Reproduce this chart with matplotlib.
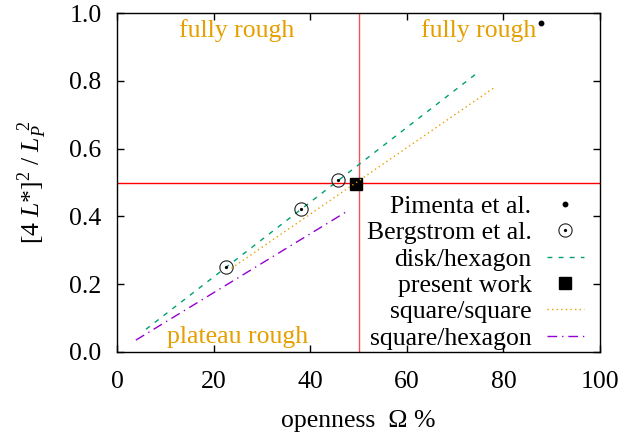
import matplotlib
matplotlib.use("Agg")
import matplotlib.pyplot as plt

# ---- data ----
pimenta_x = [87.8]
pimenta_y = [0.97]
bergstrom_x = [22.6, 38.1, 45.75]
bergstrom_y = [0.25, 0.423, 0.507]
disk_hex_x = [6.0, 74.3]
disk_hex_y = [0.067, 0.82]
present_x = [49.4]
present_y = [0.496]
sq_sq_x = [23.7, 77.9]
sq_sq_y = [0.247, 0.778]
sq_hex_x = [3.9, 48.1]
sq_hex_y = [0.035, 0.419]
x_ticks = [0, 20, 40, 60, 80, 100]
y_ticks = [0.0, 0.2, 0.4, 0.6, 0.8, 1.0]
x_crit = 50
y_crit = 0.5

plt.rcParams['font.family'] = ['Liberation Serif', 'DejaVu Serif']
plt.rcParams['mathtext.fontset'] = 'custom'
plt.rcParams['mathtext.rm'] = 'Liberation Serif'
plt.rcParams['mathtext.it'] = 'Liberation Serif:italic'
plt.rcParams['lines.scale_dashes'] = False
FS = 18.5

fig = plt.figure(figsize=(6.26, 4.32), dpi=100)
ax = fig.add_axes([117/626, 80/432, 483/626, 339/432])

orange = '#E69F00'
green = '#009E73'
purple = '#9400D3'

ax.axvline(x_crit, color='#f25555', lw=1.0, zorder=1)
ax.axhline(y_crit, color='red', lw=1.0, zorder=1)

ax.plot(pimenta_x, pimenta_y, ls='none', marker='o', ms=3.2, color='black',
        label='Pimenta et al.', zorder=5)
ax.plot(bergstrom_x, bergstrom_y, ls='none', marker=r'$\odot$', ms=10,
        color='black', markeredgewidth=0.2, label='Bergstrom et al.', zorder=5)
ax.plot(disk_hex_x, disk_hex_y, color=green, lw=1.0, dashes=(3.5, 4.5),
        label='disk/hexagon', zorder=3)
ax.plot(present_x, present_y, ls='none', marker='s', ms=8, color='black',
        label='present work', zorder=4)
ax.plot(sq_sq_x, sq_sq_y, color=orange, lw=1.0, dashes=(1.0, 2.3),
        label='square/square', zorder=5)
ax.plot(sq_hex_x, sq_hex_y, color=purple, lw=1.0, dashes=(7, 3.5, 1, 3.5),
        label='square/hexagon', zorder=3)

ax.text(24.8, 0.947, 'fully rough', color=orange, fontsize=FS, ha='center', va='center')
ax.text(74.9, 0.947, 'fully rough', color=orange, fontsize=FS, ha='center', va='center')
ax.text(25.0, 0.044, 'plateau rough', color=orange, fontsize=FS, ha='center', va='center')

ax.set_xlim(0, 100)
ax.set_ylim(0, 1)
ax.set_xticks(x_ticks)
ax.set_yticks(y_ticks)
ax.set_xticklabels([str(v) for v in x_ticks])
ax.set_yticklabels([f'{v:.1f}' for v in y_ticks])
ax.tick_params(direction='in', top=True, right=True, length=5, width=1,
               labelsize=FS, colors='black')
ax.tick_params(axis='x', pad=14)
ax.tick_params(axis='y', pad=11)
for s in ax.spines.values():
    s.set_linewidth(1.0)

ax.set_xlabel('openness  Ω %', fontsize=FS)
ax.xaxis.set_label_coords(0.5, -0.17)
ax.set_ylabel(r'$[4\ L$*$]^2\ /\ L_P^{\ 2}$', fontsize=FS)
ax.yaxis.set_label_coords(-0.141, 0.5)

leg = ax.legend(loc='upper right', bbox_to_anchor=(0.967, 0.463), frameon=False,
                markerfirst=False, fontsize=FS, handlelength=1.45, handletextpad=0.6,
                labelspacing=0.13, borderpad=0, borderaxespad=0)
for col in leg._legend_handle_box.get_children():
    col.align = 'right'

fig.savefig('out.png', dpi=100)
